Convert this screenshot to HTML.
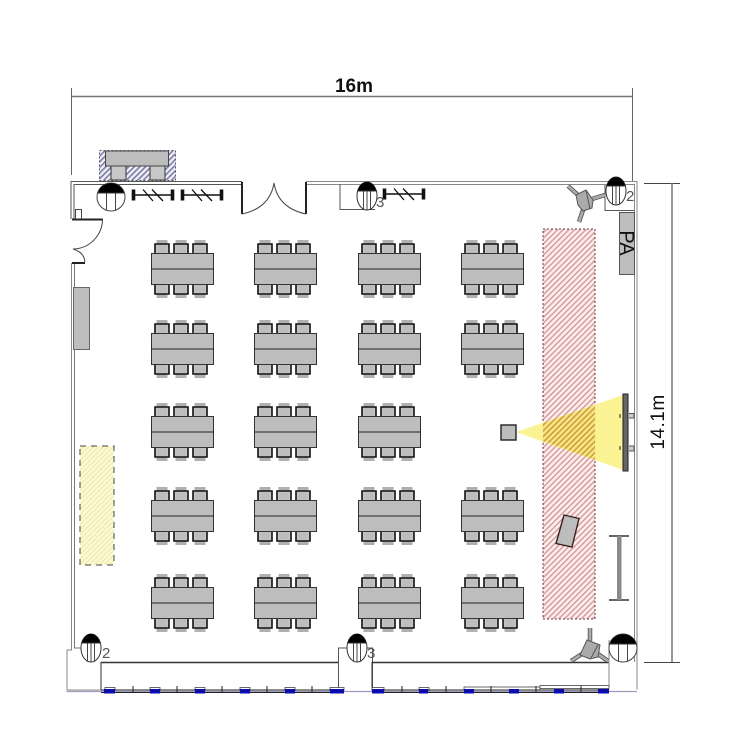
<!DOCTYPE html>
<html><head><meta charset="utf-8"><style>
html,body{margin:0;padding:0;background:#fff}
svg{display:block}
text{font-family:"Liberation Sans",sans-serif}
</style></head><body>
<svg xmlns="http://www.w3.org/2000/svg" width="750" height="750" viewBox="0 0 750 750">
<defs>
<pattern id="red" width="4" height="4" patternUnits="userSpaceOnUse" patternTransform="rotate(45)"><rect width="4" height="4" fill="#fbeeec"/><rect width="1.3" height="4" fill="#d39393"/></pattern>
<pattern id="yel" width="3.5" height="3.5" patternUnits="userSpaceOnUse" patternTransform="rotate(45)"><rect width="3.5" height="3.5" fill="#fdfbd8"/><rect width="1.2" height="3.5" fill="#efe8a8"/></pattern>
<pattern id="blu" width="4" height="4" patternUnits="userSpaceOnUse" patternTransform="rotate(45)"><rect width="4" height="4" fill="#eeeef6"/><rect width="1.6" height="4" fill="#7d7da8"/></pattern>
<pattern id="over" width="4" height="4" patternUnits="userSpaceOnUse" patternTransform="rotate(45)"><rect width="4" height="4" fill="#f9e878"/><rect width="1.5" height="4" fill="#c89a50"/></pattern>
<g id="chair">
<rect x="2.500" y="0" width="11" height="4" fill="#b0b0b0"/>
<path d="M1 13V4H15V13" fill="#c4c4c4" stroke="#111" stroke-width="1.600"/>
<rect x="3.500" y="5.500" width="9" height="7.500" fill="#bdbdbd"/>
</g>
<g id="t">
<use href="#chair" x="3" y="-13"/><use href="#chair" x="22" y="-13"/><use href="#chair" x="41" y="-13"/>
<use href="#chair" transform="translate(3 45) scale(1 -1)"/><use href="#chair" transform="translate(22 45) scale(1 -1)"/><use href="#chair" transform="translate(41 45) scale(1 -1)"/>
<rect x="0.500" y="0.500" width="62" height="31" fill="#bdbdbd" stroke="#333" stroke-width="1"/>
<line x1="0" y1="16" x2="63" y2="16" stroke="#222" stroke-width="1"/>
</g>
<g id="lamp">
<ellipse cx="0" cy="0" rx="10" ry="14" fill="#fff" stroke="#333" stroke-width="1"/>
<path d="M-8.300 -7.800A10 14 0 0 1 8.300 -7.800L9 -5H-9Z" fill="#000"/>
<path d="M-3.500 -5V13.500M0 -5V14M3.500 -5V13.500M-10 -5H10" stroke="#333" stroke-width="0.900" fill="none"/>
</g>
<g id="lampw">
<circle cx="0" cy="0" r="14" fill="#fff" stroke="#444" stroke-width="1"/>
<path d="M-12 -7A14 14 0 0 1 12 -7L13 -4H-13Z" fill="#000"/>
<path d="M-4.500 -4V13.500M4.500 -4V13.500M-14 -4H14" stroke="#333" stroke-width="0.900" fill="none"/>
</g>
<g id="rail" stroke="#111" fill="none">
<path d="M0 0H42" stroke-width="1.600"/>
<path d="M1.500 -5.500V5.500M40.500 -5.500V5.500" stroke-width="3.600"/>
<path d="M11 -5.500L21 6M20 -5.500L31 6" stroke-width="1.300"/>
</g>
</defs>

<!-- dimensions -->
<g stroke="#777" fill="none">
<path d="M72 96.500H633" stroke-width="1.500"/>
<path d="M71.500 88V175M632.500 88V181" stroke="#666"/>
<path d="M644 183.500H680M644 662.500H680" stroke="#444"/>
<path d="M672 183V662" stroke-width="1.500"/>
</g>
<text x="354" y="92" font-size="19" font-weight="bold" text-anchor="middle" fill="#111">16m</text>
<text transform="translate(664 422) rotate(-90)" font-size="19" text-anchor="middle" fill="#111" letter-spacing="0.500">14.1m</text>

<!-- top-left hatched equipment -->
<rect x="99.500" y="150.500" width="76" height="30" fill="url(#blu)" stroke="#556" stroke-dasharray="2 2"/>
<rect x="111" y="166" width="15" height="14" fill="#c8c8c8" stroke="#333"/>
<rect x="150" y="166" width="15" height="14" fill="#c8c8c8" stroke="#333"/>
<rect x="105.500" y="151" width="63" height="15" fill="#bdbdbd" stroke="#444"/>

<!-- hatch area -->
<rect x="543" y="229" width="52" height="390" fill="url(#red)" stroke="#6b3a3a" stroke-dasharray="2 2"/>
<rect x="80" y="446" width="34" height="119" fill="url(#yel)" stroke="#444" stroke-dasharray="6 5"/>

<!-- walls -->
<g fill="none" stroke="#666" stroke-width="1">
<path d="M242 181.500H71V219M242 184.500H74V219" stroke="#555"/>
<path d="M306 181.500H637V689.500" stroke="#888"/>
<path d="M306 184.500H634.500V662" stroke="#888"/>
<path d="M71.500 263V650H67V690H101" stroke="#888"/>
<path d="M74.500 263V648H90" stroke="#777"/>
<path d="M340 184V209.500H375" stroke="#555"/>
<path d="M605 185V210.500H634" stroke="#555"/>
<path d="M338.500 689V648H372.500V689" stroke="#555"/>
</g>
<path d="M66.500 691.500H637" stroke="#9a9ac0" stroke-width="1.200"/>
<path d="M72 219.500H103M72 263H85" stroke="#222" stroke-width="2"/>
<path d="M75.500 219V209.500H81.500V219" fill="none" stroke="#444"/>
<path d="M102.500 219A30 30 0 0 1 73 249Q84 252 85 262" fill="none" stroke="#444"/>
<path d="M242 182V214M306 182V214" stroke="#222" stroke-width="2"/>
<path d="M242 214Q270 208 274 183Q278 208 306 214" fill="none" stroke="#444"/>
<path d="M101 662.500H338M372 662.500H609" stroke="#333" stroke-width="1.600"/>
<path d="M101 662V690M372 662V689" stroke="#333"/>
<path d="M609 640V686H541V688" fill="none" stroke="#888"/>

<!-- rails -->
<use href="#rail" x="132" y="195"/>
<use href="#rail" x="181" y="195"/>
<use href="#rail" x="383" y="194"/>

<!-- lamps -->
<use href="#lampw" x="111" y="197"/>
<use href="#lamp" x="367" y="196"/>
<use href="#lamp" x="616" y="191"/>
<use href="#lamp" x="91" y="648"/>
<use href="#lamp" x="357" y="648"/>
<use href="#lampw" x="623" y="648"/>
<g font-size="15" fill="#555">
<text x="376" y="207">3</text>
<text x="626" y="201">2</text>
<text x="102" y="658">2</text>
<text x="367" y="658">3</text>
</g>

<!-- tables -->
<use href="#t" x="151" y="253"/><use href="#t" x="254" y="253"/><use href="#t" x="358" y="253"/><use href="#t" x="461" y="253"/>
<use href="#t" x="151" y="333"/><use href="#t" x="254" y="333"/><use href="#t" x="358" y="333"/><use href="#t" x="461" y="333"/>
<use href="#t" x="151" y="416"/><use href="#t" x="254" y="416"/><use href="#t" x="358" y="416"/>
<use href="#t" x="151" y="500"/><use href="#t" x="254" y="500"/><use href="#t" x="358" y="500"/><use href="#t" x="461" y="500"/>
<use href="#t" x="151" y="587"/><use href="#t" x="254" y="587"/><use href="#t" x="358" y="587"/><use href="#t" x="461" y="587"/>

<!-- left grey -->
<rect x="73.500" y="287.500" width="16" height="62" fill="#bdbdbd" stroke="#666"/>

<!-- PA -->
<rect x="619.500" y="212.500" width="15" height="62" fill="#bdbdbd" stroke="#555"/>
<text transform="translate(620 243) rotate(90)" font-size="20" text-anchor="middle" fill="#111">PA</text>

<!-- projector -->
<polygon points="516,432 623,395 623,470" fill="#fbf28a" fill-opacity="0.920"/>
<polygon points="543,423 595,405 595,460 543,441" fill="url(#over)"/>
<rect x="501" y="425" width="15" height="15" fill="#bdbdbd" stroke="#222" stroke-width="1.400"/>
<rect x="623" y="394" width="5" height="77" fill="#666" stroke="#222"/>
<path d="M629 413.500H634V418H629M629 446H634V451H629" fill="#ccc" stroke="#555"/>
<path d="M620 414V418M620 446V450" stroke="#222"/>

<!-- podium -->
<polygon points="564,515 579,518.500 572,547 556,543.500" fill="#bdbdbd" stroke="#3a2020" stroke-width="1.400"/>

<!-- lectern -->
<path d="M609 536H629M609 600H629" stroke="#333" stroke-width="1.500"/>
<rect x="617" y="536" width="4.500" height="64" fill="#8a8a8a"/>

<!-- speakers -->
<g fill="none" stroke-linecap="butt">
<path d="M568 186L578 195M583 210L579 222M592 199L605 195M590 628V641M571 661L582 654M598 654L608 661" stroke="#555" stroke-width="4.500"/>
<path d="M568 186L578 195M583 210L579 222M592 199L605 195M590 628V641M571 661L582 654M598 654L608 661" stroke="#aaa" stroke-width="2.800"/>
</g>
<g fill="#aaa" stroke="#555" stroke-width="1">
<path d="M576 195L586 190L593 200L592 208L583 211L578 205Z"/>
<path d="M586 190L590 209" fill="none"/>
<path d="M587 640L600 645L598 657L590 659L580 655Z"/>
<path d="M591 658L598 645" fill="none"/>
</g>

<!-- bottom window wall -->
<g fill="#fff" stroke="#444" stroke-width="0.800">
<rect x="105" y="687.500" width="10" height="3"/><rect x="150" y="687.500" width="10" height="3"/><rect x="195" y="687.500" width="10" height="3"/><rect x="240" y="687.500" width="10" height="3"/><rect x="285" y="687.500" width="10" height="3"/><rect x="330" y="687.500" width="14" height="3"/><rect x="372" y="687.500" width="12" height="3"/><rect x="419" y="687.500" width="10" height="3"/><rect x="464" y="687" width="76" height="3"/><rect x="540" y="685.500" width="69" height="3"/>
</g>
<path d="M101 690H338M372 690H609M101 692.500H338M372 692.500H609" stroke="#222" stroke-width="1"/>
<path d="M133 686V693M177 686V693M222 686V693M267 686V693M312 686V693M402 686V693M446 686V693M491 686V693M536 686V693M581 686V693" stroke="#222"/>
<g fill="#0b0bb0">
<rect x="104" y="689" width="11" height="4.500"/><rect x="150" y="689" width="10" height="4.500"/><rect x="195" y="689" width="10" height="4.500"/><rect x="240" y="689" width="10" height="4.500"/><rect x="285" y="689" width="10" height="4.500"/><rect x="330" y="689" width="14" height="4.500"/><rect x="372" y="689" width="12" height="4.500"/><rect x="419" y="689" width="9" height="4.500"/><rect x="464" y="689" width="10" height="4.500"/><rect x="509" y="689" width="10" height="4.500"/><rect x="554" y="689" width="10" height="4.500"/><rect x="598" y="689" width="11" height="4.500"/>
</g>
</svg>
</body></html>
